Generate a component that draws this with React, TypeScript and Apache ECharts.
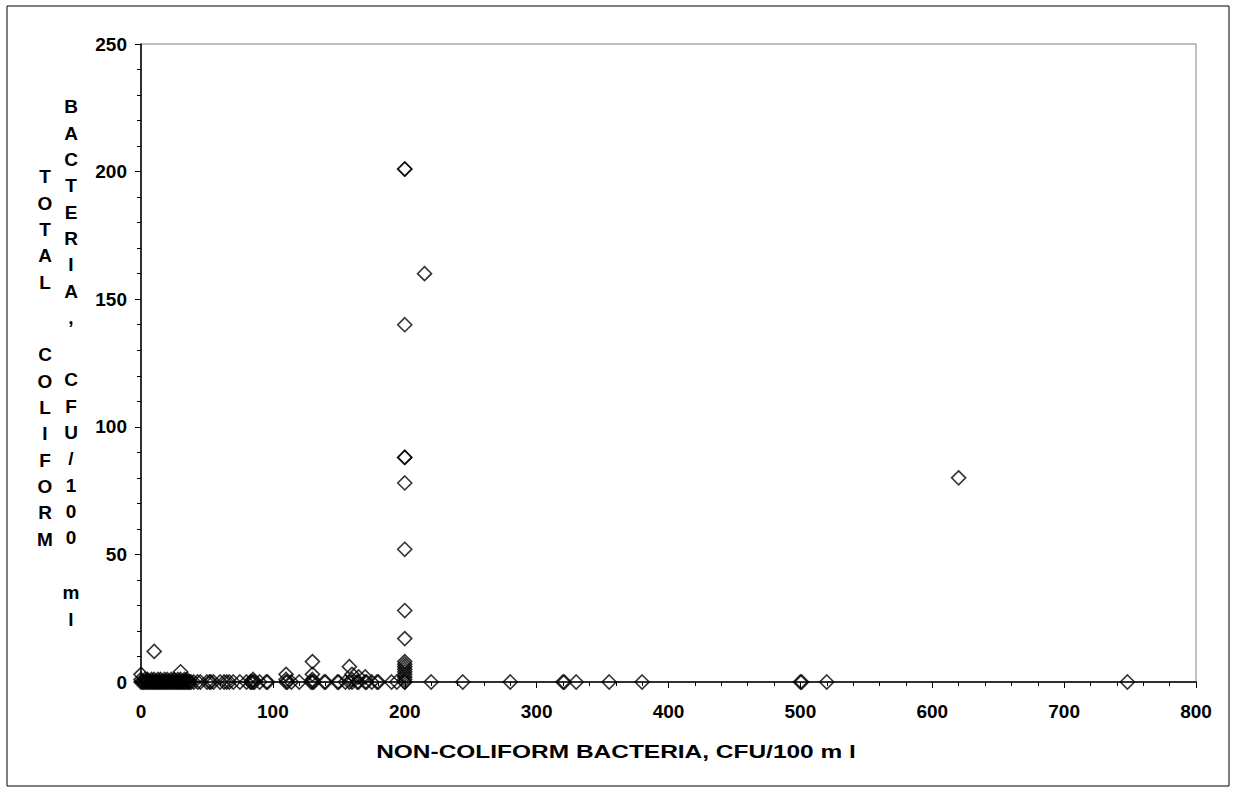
import React, { useEffect, useRef } from "react";
import * as echarts from "echarts";

// Non-coliform bacteria (x) vs total coliform bacteria (y), CFU/100 ml
const xLow: number[] = [0,1,2,3,4,5,6,7,8,9,10,11,12,13,14,15,16,17,18,19,20,21,22,23,24,25,26,27,28,29,30,31,32,33,34,35,36,37,38,40,43,45,50,52,53,55,60,63,65,67,70,75,80,83,84,85,86,90,95,96,110,111,114,120,129,130,131,139,140,149,150,155,158,160,164,165,170,171,175,179,180,190,194,200];
const yLow: number[] = xLow.map(() => 0);
const xOnes: number[] = [0,3,5,8,10,13,15,18,20,23,25,28,30,33,35,85,110,130,160,200];
const yOnes: number[] = [1,1,1,1,1,1,1,1,1,1,1,1,1,1,1,1,1,1,1,1];
const xSmall: number[] = [0,10,30,110,130,130,158,160,165,170];
const ySmall: number[] = [3,12,4,3,8,3,6,3,2,2];
const x200: number[] = [200,200,200,200,200,200,200,200,200,200,200,200,200,200,200,200,200];
const y200: number[] = [201,201,140,88,88,78,52,28,17,8,7,6,5,4,3,2,0];
const xOther: number[] = [215,620,220,244,280,320,321,330,355,380,500,501,520,748];
const yOther: number[] = [160,80,0,0,0,0,0,0,0,0,0,0,0,0];

const xTitle = "NON-COLIFORM BACTERIA, CFU/100 m l";
// y title: two stacked columns, split at the spaces
const yTitle1Words = ["TOTAL", "COLIFORM"];
const yTitle2Words = ["BACTERIA,", "CFU/100", "ml"];

const font = "'Liberation Sans', Arial, sans-serif";

function pairs(xs: number[], ys: number[]): number[][] {
  return xs.map((x, i) => [x, ys[i]]);
}

export default function App() {
  const ref = useRef<HTMLDivElement>(null);
  useEffect(() => {
    if (!ref.current) return;
    const chart = echarts.init(ref.current, undefined, { renderer: "svg" });
    const data = [
      ...pairs(xLow, yLow),
      ...pairs(xOnes, yOnes),
      ...pairs(xSmall, ySmall),
      ...pairs(x200, y200),
      ...pairs(xOther, yOther),
    ];
    const LH = 26.3;
    const vtext = (word: string, x: number, firstCenter: number) => ({
      type: "text",
      x,
      y: firstCenter - LH / 2,
      silent: true,
      style: {
        text: word.split("").join("\n"),
        fontFamily: font,
        fontWeight: "bold",
        fontSize: 19,
        lineHeight: LH,
        fill: "#000",
        align: "center",
        verticalAlign: "top",
      },
    });
    chart.setOption({
      animation: false,
      backgroundColor: "#ffffff",
      grid: {
        left: 141,
        right: 39,
        top: 44,
        bottom: 111,
        show: true,
        borderColor: "#808080",
        borderWidth: 1,
        backgroundColor: "transparent",
      },
      xAxis: {
        type: "value",
        min: 0,
        max: 800,
        interval: 100,
        axisLine: { show: true, onZero: false, lineStyle: { color: "#000", width: 1.5 } },
        axisTick: { show: true, inside: false, length: 6, lineStyle: { color: "#000" } },
        minorTick: { show: true, splitNumber: 5, length: 4, lineStyle: { color: "#000" } },
        splitLine: { show: false },
        axisLabel: { fontFamily: font, fontWeight: "bold", fontSize: 19, color: "#000", margin: 20 },
      },
      yAxis: {
        type: "value",
        min: 0,
        max: 250,
        interval: 50,
        axisLine: { show: true, onZero: false, lineStyle: { color: "#000", width: 1.5 } },
        axisTick: { show: true, inside: false, length: 6, lineStyle: { color: "#000" } },
        minorTick: { show: true, splitNumber: 5, length: 4, lineStyle: { color: "#000" } },
        splitLine: { show: false },
        axisLabel: { fontFamily: font, fontWeight: "bold", fontSize: 19, color: "#000", margin: 14 },
      },
      graphic: [
        {
          type: "rect",
          shape: { x: 7, y: 6, width: 1222, height: 780 },
          style: { fill: "none", stroke: "#000", lineWidth: 1 },
          silent: true,
        },
        vtext(yTitle1Words[0], 45, 177),
        vtext(yTitle1Words[1], 45, 355),
        vtext(yTitle2Words[0], 71, 107),
        vtext(yTitle2Words[1], 71, 380),
        vtext(yTitle2Words[2], 71, 593),
        {
          type: "text",
          x: 616,
          y: 752,
          scaleX: 1.36,
          silent: true,
          style: {
            text: xTitle,
            fontFamily: font,
            fontWeight: "bold",
            fontSize: 18,
            fill: "#000",
            align: "center",
            verticalAlign: "middle",
          },
        },
      ],
      series: [
        {
          type: "scatter",
          data,
          symbol: "diamond",
          symbolSize: 14,
          itemStyle: { color: "transparent", borderColor: "#000", borderWidth: 1.6 },
        },
      ],
    });
    return () => chart.dispose();
  }, []);
  return (
    <div
      ref={ref}
      style={{ position: "fixed", left: 0, top: 0, width: 1235, height: 793 }}
    />
  );
}
